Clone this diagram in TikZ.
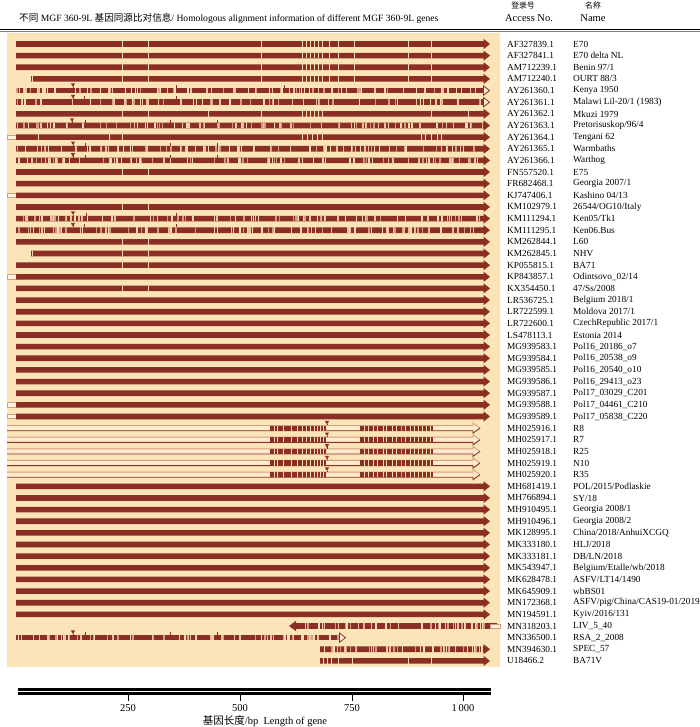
\documentclass[tikz,border=0pt]{standalone}
\usepackage{fontspec}
\setmainfont{Liberation Serif}
\newfontfamily\cjk{Noto Sans CJK SC}
\definecolor{arrred}{HTML}{8B2E24}
\definecolor{bgbeige}{HTML}{FCE4B9}
\definecolor{stripeA}{HTML}{F7DCB0}
\definecolor{stripeB}{HTML}{D49C82}
\definecolor{stripeC}{HTML}{EBC09C}
\definecolor{nubfill}{HTML}{FFF3DC}
\definecolor{mhfill}{HTML}{FDEBCB}
\tikzset{
  arr/.style={fill=arrred},
  acc/.style={anchor=west, inner sep=0pt, font=\fontsize{9.3}{10}\selectfont},
  nm/.style={anchor=west, inner sep=0pt, font=\fontsize{9.3}{10}\selectfont},
  hdr/.style={inner sep=0pt, font=\fontsize{10.5}{11}\selectfont},
  axlab/.style={inner sep=0pt, font=\fontsize{10.5}{11}\selectfont},
}
\newcommand\Y[1]{\pgfmathsetmacro\yy{44+11.64*#1}}
% solid arrow: row, x0, x1
\newcommand\sarr[3]{\Y{#1}\fill[arr] (#2,\yy-2.8) -- ({#3-6.5},\yy-2.8) -- ({#3-6.5},\yy-5.2) -- (#3,\yy) -- ({#3-6.5},\yy+5.2) -- ({#3-6.5},\yy+2.8) -- (#2,\yy+2.8) -- cycle;}
% open-head arrow
\newcommand\oarr[3]{\Y{#1}\fill[arr] (#2,\yy-2.8) rectangle ({#3-6.5},\yy+2.8);
  \filldraw[fill=nubfill, draw=arrred, line width=0.8pt] ({#3-6.5},\yy-4.6) -- ({#3-0.5},\yy) -- ({#3-6.5},\yy+4.6) -- cycle;}
% light ticks in arrow body
\newcommand\tk[2]{\Y{#1}\foreach \s in {#2}{\fill[stripeA] ({\s-0.5},\yy-2.8) rectangle ({\s+0.5},\yy+2.8);}}
% random variable stripes: row, x0, x1, n, seed
\newcommand\vst[5]{\Y{#1}\pgfmathsetseed{#5}%
  \foreach \k in {1,...,#4}{%
    \pgfmathsetmacro\sx{#2+rnd*(#3-#2)}%
    \pgfmathsetmacro\sw{0.5+1.5*rnd}%
    \pgfmathtruncatemacro\sc{3*rnd}%
    \ifcase\sc \def\scol{stripeA}\or \def\scol{stripeB}\or \def\scol{stripeC}\else \def\scol{stripeA}\fi
    \fill[\scol] (\sx,\yy-2.8) rectangle ({\sx+\sw},\yy+2.8);}}
% triangle marker and tick marker
\newcommand\tri[2]{\Y{#1}\fill[arr] ({#2-2.1},\yy-7.2) -- ({#2+2.1},\yy-7.2) -- (#2,\yy-3.6) -- cycle;\draw[arrred, line width=0.5pt] (#2,\yy-4) -- (#2,\yy-2.8);}
\newcommand\mk[2]{\Y{#1}\draw[arrred, line width=0.5pt] (#2,\yy-5.8) -- (#2,\yy-2.8);}
% left nub
\newcommand\nub[1]{\Y{#1}\filldraw[fill=nubfill, draw=stripeB, line width=0.5pt] (7,\yy-2.2) rectangle (16,\yy+2.2);}
% MH outlined arrow
\newcommand\mh[1]{\Y{#1}
  \fill[mhfill] (7,\yy-2.6) -- (473,\yy-2.6) -- (473,\yy-5) -- (480,\yy) -- (473,\yy+5) -- (473,\yy+2.6) -- (7,\yy+2.6) -- cycle;
  \draw[stripeB, line width=0.9pt] (7,\yy-2.6) -- (473,\yy-2.6) -- (473,\yy-5) -- (480,\yy);
  \draw[arrred, line width=0.9pt] (7,\yy+2.6) -- (473,\yy+2.6) -- (473,\yy+5) -- (480,\yy);
  \fill[arr] (270,\yy-2.6) rectangle (326,\yy+2.6);
  \fill[arr] (360,\yy-2.6) rectangle (433,\yy+2.6);
  \foreach \s in {274,277,283,291,297,302,306,310,314,317,320,323,364,368,373,377,383,386,392,396,405,410,414,418,422,426,430}{\fill[stripeA] ({\s-0.5},\yy-2.6) rectangle ({\s+0.5},\yy+2.6);}
  \draw[stripeB, line width=0.4pt] (401,\yy-2.6) -- (401,\yy+2.6);
  \tri{#1}{327}}
\newcommand\lab[3]{\Y{#1}\node[acc] (a#1) at (507,\yy) {#2};\node[nm] (n#1) at (573,\yy) {#3};}
\begin{document}
\begin{tikzpicture}[x=1pt,y=-1pt]
\useasboundingbox (0,0) rectangle (700,727);
% header
\node[anchor=west, inner sep=0pt, font=\fontsize{9.6}{10}\selectfont] (title) at (19,18) {{\cjk 不同} MGF 360-9L {\cjk 基因同源比对信息}/ Homologous alignment information of different MGF 360-9L genes};
\node[inner sep=0pt, font=\fontsize{7.8}{8}\selectfont\cjk] (dl) at (523,6) {登录号};
\node[hdr] (accno) at (529,18.5) {Access No.};
\node[inner sep=0pt, font=\fontsize{7.8}{8}\selectfont\cjk] (mc) at (593,6) {名称};
\node[hdr] (name) at (593,18.5) {Name};
\draw[black, line width=1.4pt] (0,29.6) -- (700,29.6);
\draw[gray, line width=0.6pt] (0,31.8) -- (700,31.8);
% background
\fill[bgbeige] (7,33) rectangle (500,667);
% rows with conserved pattern
\foreach \r in {0,1,2}{\sarr{\r}{16}{490}\tk{\r}{122,148,261,302,306,310,314,318,322,329,338,354,408,431}}
\sarr{3}{31}{490}\tk{3}{32,122,148,261,302,306,310,314,318,322,329,338,354,408,431}
\sarr{6}{16}{490}\tk{6}{122,148,208,261,302,306,310,314,318,322,431,468}
\nub{8}\sarr{8}{16}{490}\tk{8}{38,109,122,302,307,312,317,322,421,425,431,437,441}
\foreach \r in {11,14,17,19,21}{\sarr{\r}{16}{490}\tk{\r}{122,148}}
\sarr{12}{16}{490}
\nub{13}\sarr{13}{16}{490}
\sarr{18}{31}{490}\tk{18}{32,122,148}
\nub{20}\sarr{20}{16}{490}
\foreach \r in {22,...,30}{\sarr{\r}{16}{490}}
\nub{31}\sarr{31}{16}{490}
\nub{32}\sarr{32}{16}{490}
\foreach \r in {38,...,49}{\sarr{\r}{16}{490}}
% variable rows
\oarr{4}{16}{490}\vst{4}{16}{482}{95}{11}\tri{4}{73}\mk{4}{176}\mk{4}{284}
\oarr{5}{16}{490}\vst{5}{16}{482}{70}{23}\tri{5}{73}\mk{5}{84}\mk{5}{176}
\sarr{7}{16}{490}\vst{7}{16}{482}{90}{37}\tri{7}{72}\mk{7}{85}\mk{7}{170}\mk{7}{217}
\sarr{9}{16}{490}\vst{9}{16}{482}{90}{41}\tri{9}{73}\mk{9}{85}\mk{9}{170}\mk{9}{217}
\sarr{10}{16}{490}\vst{10}{16}{482}{90}{53}\tri{10}{73}\mk{10}{85}\mk{10}{170}\mk{10}{217}
\sarr{15}{16}{490}\vst{15}{16}{482}{90}{67}\tri{15}{73}\mk{15}{86}\mk{15}{176}
\sarr{16}{16}{490}\vst{16}{16}{482}{90}{71}\tri{16}{73}\mk{16}{84}\mk{16}{176}
% MH rows
\foreach \r in {33,...,37}{\mh{\r}}
% MN318203 reversed
\Y{50}\fill[arr] (289,\yy) -- (296,\yy-5.2) -- (296,\yy-2.8) -- (497,\yy-2.8) -- (497,\yy+2.8) -- (296,\yy+2.8) -- (296,\yy+5.2) -- cycle;
\vst{50}{300}{488}{45}{83}
\Y{50}\filldraw[fill=nubfill, draw=stripeB, line width=0.5pt] (490,\yy-1.8) rectangle (500,\yy+1.8);
% MN336500
\oarr{51}{16}{346}\vst{51}{16}{338}{75}{97}\tri{51}{73}\mk{51}{85}\mk{51}{170}\mk{51}{217}
% MN394630
\sarr{52}{320}{490}\vst{52}{320}{482}{45}{101}
% U18466.2
\sarr{53}{320}{490}\tk{53}{323,327,331,338,352,408,431}
% labels
\lab{0}{AF327839.1}{E70}
\lab{1}{AF327841.1}{E70 delta NL}
\lab{2}{AM712239.1}{Benin 97/1}
\lab{3}{AM712240.1}{OURT 88/3}
\lab{4}{AY261360.1}{Kenya 1950}
\lab{5}{AY261361.1}{Malawi Lil-20/1 (1983)}
\lab{6}{AY261362.1}{Mkuzi 1979}
\lab{7}{AY261363.1}{Pretorisuskop/96/4}
\lab{8}{AY261364.1}{Tengani 62}
\lab{9}{AY261365.1}{Warmbaths}
\lab{10}{AY261366.1}{Warthog}
\lab{11}{FN557520.1}{E75}
\lab{12}{FR682468.1}{Georgia 2007/1}
\lab{13}{KJ747406.1}{Kashino 04/13}
\lab{14}{KM102979.1}{26544/OG10/Italy}
\lab{15}{KM111294.1}{Ken05/Tk1}
\lab{16}{KM111295.1}{Ken06.Bus}
\lab{17}{KM262844.1}{L60}
\lab{18}{KM262845.1}{NHV}
\lab{19}{KP055815.1}{BA71}
\lab{20}{KP843857.1}{Odintsovo\_02/14}
\lab{21}{KX354450.1}{47/Ss/2008}
\lab{22}{LR536725.1}{Belgium 2018/1}
\lab{23}{LR722599.1}{Moldova 2017/1}
\lab{24}{LR722600.1}{CzechRepublic 2017/1}
\lab{25}{LS478113.1}{Estonia 2014}
\lab{26}{MG939583.1}{Pol16\_20186\_o7}
\lab{27}{MG939584.1}{Pol16\_20538\_o9}
\lab{28}{MG939585.1}{Pol16\_20540\_o10}
\lab{29}{MG939586.1}{Pol16\_29413\_o23}
\lab{30}{MG939587.1}{Pol17\_03029\_C201}
\lab{31}{MG939588.1}{Pol17\_04461\_C210}
\lab{32}{MG939589.1}{Pol17\_05838\_C220}
\lab{33}{MH025916.1}{R8}
\lab{34}{MH025917.1}{R7}
\lab{35}{MH025918.1}{R25}
\lab{36}{MH025919.1}{N10}
\lab{37}{MH025920.1}{R35}
\lab{38}{MH681419.1}{POL/2015/Podlaskie}
\lab{39}{MH766894.1}{SY/18}
\lab{40}{MH910495.1}{Georgia 2008/1}
\lab{41}{MH910496.1}{Georgia 2008/2}
\lab{42}{MK128995.1}{China/2018/AnhuiXCGQ}
\lab{43}{MK333180.1}{HLJ/2018}
\lab{44}{MK333181.1}{DB/LN/2018}
\lab{45}{MK543947.1}{Belgium/Etalle/wb/2018}
\lab{46}{MK628478.1}{ASFV/LT14/1490}
\lab{47}{MK645909.1}{wbBS01}
\lab{48}{MN172368.1}{ASFV/pig/China/CAS19-01/2019}
\lab{49}{MN194591.1}{Kyiv/2016/131}
\lab{50}{MN318203.1}{LIV\_5\_40}
\lab{51}{MN336500.1}{RSA\_2\_2008}
\lab{52}{MN394630.1}{SPEC\_57}
\lab{53}{U18466.2}{BA71V}
% axis
\fill[black] (18,688) rectangle (491,694.5);
\draw[white, line width=0.6pt] (18,691.2) -- (491,691.2);
\foreach \x/\l in {128/250,240/500,352/750,463/{1\,000}}{
  \draw[black, line width=0.9pt] (\x,694.5) -- (\x,700.5);
  \node[axlab] (t\x) at (\x,708) {\l};}
\node[axlab] (axtitle) at (265,721) {{\cjk 基因长度}/bp\ \ Length of gene};
\end{tikzpicture}
\end{document}
